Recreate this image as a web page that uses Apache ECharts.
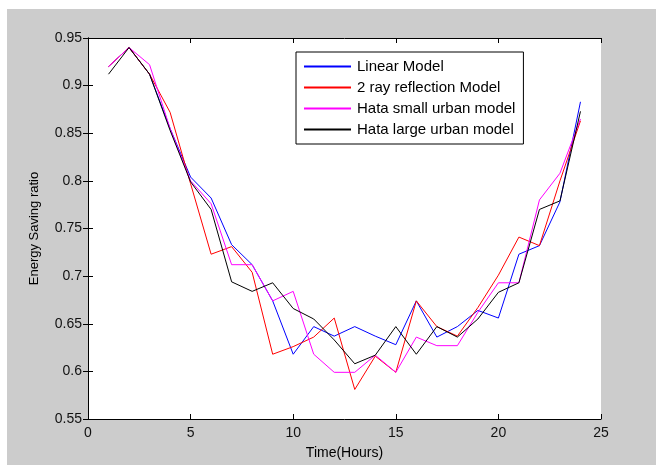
<!DOCTYPE html>
<html>
<head>
<meta charset="utf-8">
<script src="https://cdn.jsdelivr.net/npm/echarts@6/dist/echarts.min.js"></script>
<style>
  html, body { margin: 0; padding: 0; background: #fff; }
  #wrap { position: absolute; left: 7px; top: 9px; width: 649px; height: 456px; background: #cccccc; }
</style>
</head>
<body>
<div id="wrap"></div>
<script>
// hours 1..24
var hours = [1, 2, 3, 4, 5, 6, 7, 8, 9, 10, 11, 12, 13, 14, 15, 16, 17, 18, 19, 20, 21, 22, 23, 24];
var linearModel = [0.92, 0.94, 0.912, 0.855, 0.804, 0.782, 0.733, 0.712, 0.674, 0.618, 0.647, 0.637,
  0.647, 0.637, 0.628, 0.674, 0.636, 0.647, 0.664, 0.656, 0.723, 0.732, 0.778, 0.883];
var twoRayModel = [0.92, 0.94, 0.912, 0.872, 0.797, 0.723, 0.731, 0.704, 0.618, 0.626, 0.636, 0.656,
  0.581, 0.616, 0.599, 0.674, 0.647, 0.637, 0.667, 0.701, 0.741, 0.732, 0.80, 0.863];
var hataSmall = [0.92, 0.94, 0.922, 0.855, 0.80, 0.776, 0.712, 0.712, 0.674, 0.684, 0.618, 0.599,
  0.599, 0.617, 0.599, 0.636, 0.627, 0.627, 0.662, 0.693, 0.693, 0.780, 0.808, 0.865];
var hataLarge = [0.912, 0.94, 0.912, 0.853, 0.799, 0.77, 0.694, 0.684, 0.693, 0.666, 0.655, 0.633,
  0.608, 0.617, 0.647, 0.618, 0.647, 0.636, 0.655, 0.683, 0.693, 0.770, 0.779, 0.873];
var seriesNames = ["Linear Model", "2 ray reflection Model", "Hata small urban model", "Hata large urban model"];
var seriesColors = ["#0000ff", "#ff0000", "#ff00ff", "#000000"];
var seriesValues = [linearModel, twoRayModel, hataSmall, hataLarge];

var chart = echarts.init(document.getElementById("wrap"));
var font = "Liberation Sans, Arial, sans-serif";

var series = seriesValues.map(function (vals, i) {
  return {
    name: seriesNames[i],
    type: "line",
    data: hours.map(function (h, k) { return [h, vals[k]]; }),
    showSymbol: false,
    symbol: "none",
    lineStyle: { color: seriesColors[i], width: 1 },
    itemStyle: { color: seriesColors[i] },
    animation: false,
  };
});

var option = {
  animation: false,
  grid: {
    left: 81,
    top: 29,
    right: 55,
    bottom: 42,
    show: true,
    backgroundColor: "#fff",
    borderWidth: 0,
  },
  legend: {
    data: seriesNames,
    orient: "vertical",
    left: 289,
    top: 43,
    itemWidth: 47,
    itemHeight: 2,
    itemGap: 6,
    padding: [7, 8, 7, 8],
    backgroundColor: "#fff",
    borderColor: "#000",
    borderWidth: 1,
    borderRadius: 0,
    icon: "rect",
    textStyle: { fontFamily: font, fontSize: 15, color: "#000", padding: [0, 0, 0, 1] },
  },
  xAxis: [
    {
      type: "value",
      min: 0,
      max: 25,
      interval: 5,
      name: "Time(Hours)",
      nameLocation: "middle",
      nameGap: 27,
      nameTextStyle: { fontFamily: font, fontSize: 14, color: "#000" },
      splitLine: { show: false },
      axisLine: { lineStyle: { color: "#000", width: 1 } },
      axisTick: { inside: true, length: 5, lineStyle: { color: "#000" } },
      axisLabel: { fontFamily: font, fontSize: 14, color: "#111", margin: 7 },
    },
    {
      type: "value",
      position: "top",
      min: 0,
      max: 25,
      interval: 5,
      splitLine: { show: false },
      axisLine: { lineStyle: { color: "#000", width: 1 } },
      axisTick: { inside: true, length: 5, lineStyle: { color: "#000" } },
      axisLabel: { show: false },
    },
  ],
  yAxis: [
    {
      type: "value",
      min: 0.55,
      max: 0.95,
      interval: 0.05,
      name: "Energy Saving ratio",
      nameLocation: "middle",
      nameGap: 47,
      nameTextStyle: { fontFamily: font, fontSize: 13, color: "#000" },
      splitLine: { show: false },
      axisLine: { show: true, lineStyle: { color: "#000", width: 1 } },
      axisTick: { inside: true, length: 5, lineStyle: { color: "#000" } },
      axisLabel: {
        fontFamily: font, fontSize: 14, color: "#111", margin: 6,
        formatter: function (v) { return String(Math.round(v * 100) / 100); },
      },
    },
    {
      type: "value",
      position: "right",
      min: 0.55,
      max: 0.95,
      interval: 0.05,
      splitLine: { show: false },
      axisLine: { show: true, lineStyle: { color: "#000", width: 1 } },
      axisTick: { inside: true, length: 5, lineStyle: { color: "#000" } },
      axisLabel: { show: false },
    },
  ],
  series: series,
};
chart.setOption(option);
</script>
</body>
</html>
